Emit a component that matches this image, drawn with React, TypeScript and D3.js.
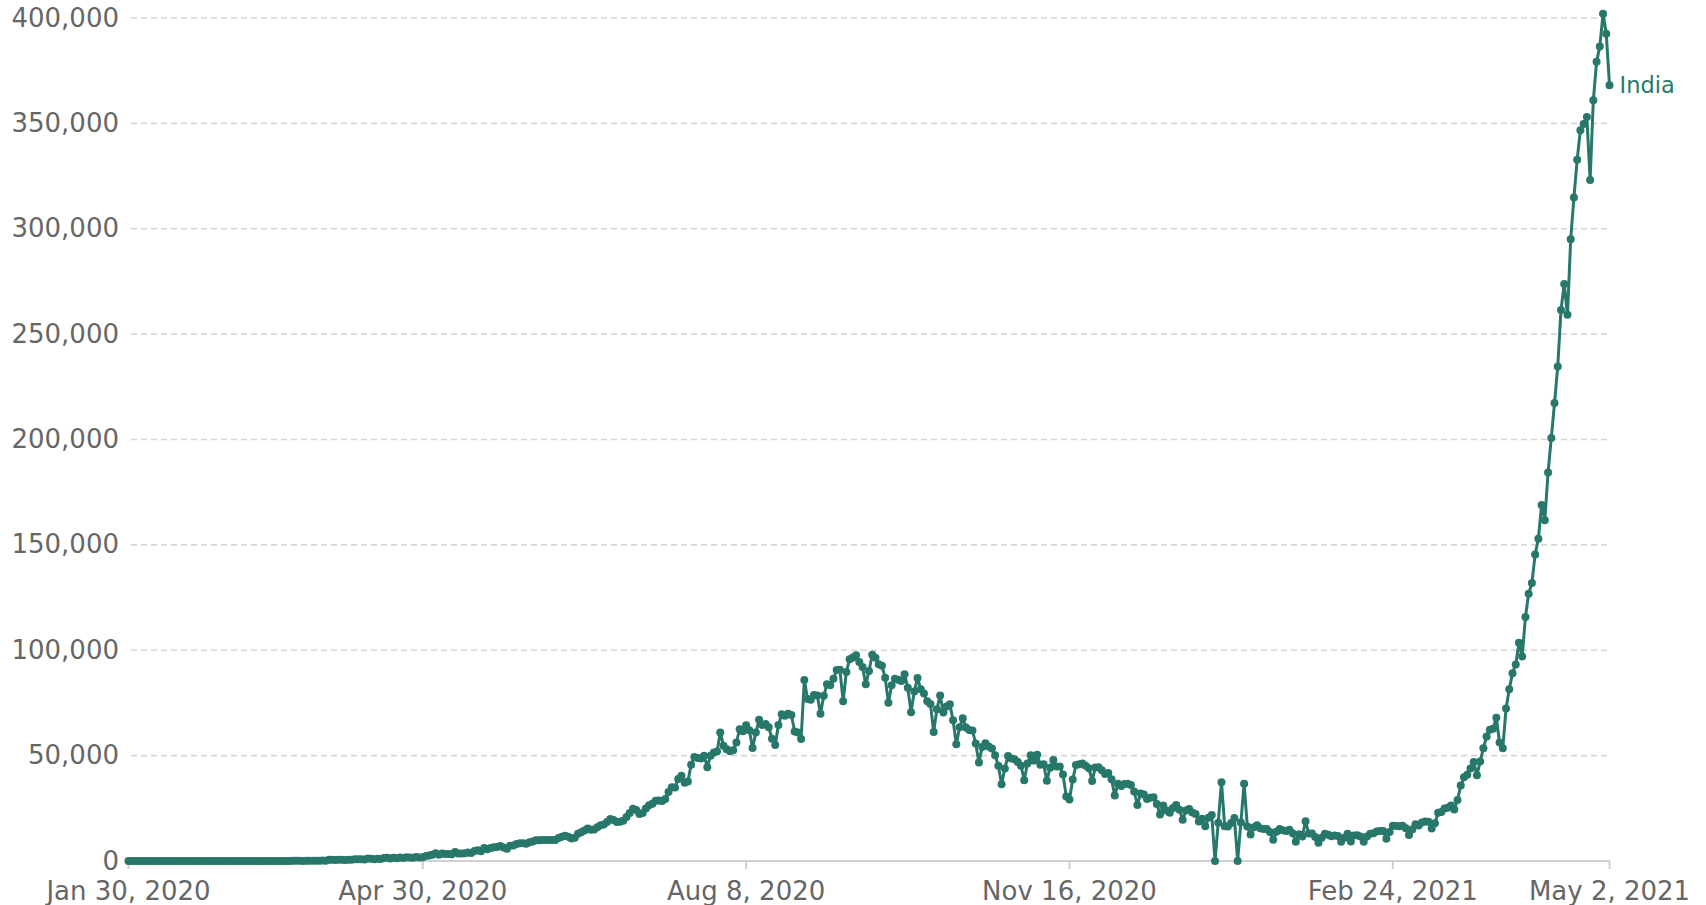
import React from "react";
import * as d3 from "d3";

// daily new confirmed cases, India, one value per day starting Jan 30, 2020
const jan2020 = [1, 0];
const feb2020 = [0, 1, 1, 0, 0, 0, 0, 0, 0, 0, 0, 0, 0, 0, 0, 0, 0, 0, 0, 0, 0, 0, 0, 0, 0, 0, 0, 0, 0];
const mar2020 = [0, 2, 1, 22, 2, 1, 3, 5, 4, 6, 6, 11, 9, 20, 11, 6, 23, 14, 38, 50, 86, 66, 103, 37, 121, 70, 160, 100, 112, 227, 146];
const apr2020 = [601, 545, 478, 579, 609, 484, 573, 565, 813, 871, 854, 758, 1243, 1031, 886, 1061, 922, 1371, 1580, 1239, 1537, 1292, 1667, 1408, 1835, 1607, 1568, 1902, 1705, 1801];
const may2020 = [2396, 2564, 2952, 3656, 2971, 3602, 3344, 3339, 3175, 4311, 3592, 3562, 3726, 3991, 3808, 4794, 5050, 4628, 6147, 5553, 6198, 6568, 6629, 7111, 6414, 5843, 7293, 7300, 8105, 8380, 8392];
const jun2020 = [8171, 8909, 9304, 9851, 9887, 9971, 9983, 9987, 9985, 9996, 10956, 11458, 11929, 11502, 10667, 10974, 12881, 13586, 14516, 15413, 14821, 14933, 15968, 16922, 17296, 18552, 19906, 19459, 18522, 18653];
const jul2020 = [19148, 20903, 22771, 24850, 24248, 22252, 22752, 24879, 26506, 27114, 28637, 28701, 28498, 29429, 32695, 34956, 34884, 38902, 40425, 37148, 37724, 45720, 49310, 48916, 48661, 49931, 44500, 50000, 51500, 52000, 61000];
const aug2020 = [54735, 52972, 52050, 52509, 56282, 62538, 61537, 64399, 62064, 53601, 60963, 66999, 64553, 65002, 63490, 57981, 55079, 64531, 69652, 68898, 69878, 69239, 61408, 60975, 57900, 85900, 76900, 76472, 78761, 78512, 69921];
const sep2020 = [78357, 83883, 83341, 86432, 90632, 90802, 75809, 89706, 95735, 96551, 97570, 94372, 92071, 83809, 90123, 97894, 96424, 93337, 92605, 86961, 75083, 83347, 86508, 86052, 85362, 88600, 82170, 70589, 80472, 86821];
const oct2020 = [81484, 79476, 75829, 74442, 61267, 72049, 78524, 70496, 73272, 74383, 66732, 55342, 63509, 67708, 63371, 62212, 61871, 55722, 46790, 54044, 55839, 54366, 53370, 50129, 45148, 36470, 43893, 49881, 48648, 48268, 46963];
const nov2020 = [45231, 38310, 46253, 50209, 47638, 50356, 45674, 45903, 38073, 44281, 47905, 44879, 44878, 41100, 30548, 29163, 38617, 45576, 45882, 46232, 45209, 44059, 37975, 44376, 44489, 43082, 41322, 41810, 38772, 31118];
const dec2020 = [36604, 35551, 36595, 36652, 36011, 32981, 26567, 32080, 31521, 29398, 30006, 30254, 27071, 22065, 26382, 24010, 22890, 25152, 26624, 24337, 19556, 23950, 24712, 23068, 22273, 18732, 20021, 16432, 20550, 21822, 0];
const jan2021 = [18200, 37400, 16504, 16375, 18088, 20346, 0, 18222, 36600, 16311, 12584, 15968, 16946, 15590, 15158, 15144, 13788, 10064, 13823, 15223, 14545, 14256, 14849, 13203, 9102, 12689, 11666, 18855, 13083, 13052, 11427];
const feb2021 = [8635, 11039, 12899, 12408, 11713, 12059, 11831, 9110, 11067, 12923, 9309, 12143, 12194, 11649, 9121, 11610, 12881, 13193, 13993, 14264, 14199, 10584, 13742, 16738, 16577, 16488, 16752, 15510];
const mar2021 = [12286, 14989, 17407, 16838, 18327, 18711, 18599, 15388, 17921, 22854, 23285, 24882, 25320, 26291, 24492, 28903, 35871, 39726, 40953, 43846, 46951, 40715, 47262, 53476, 59118, 62258, 62714, 68020, 56211, 53480, 72330];
const apr2021 = [81466, 89129, 93249, 103558, 96982, 115736, 126789, 131968, 145384, 152879, 168912, 161736, 184372, 200739, 217353, 234692, 261500, 273810, 259170, 295041, 314835, 332730, 346786, 349691, 352991, 323144, 360960, 379257, 386452, 401993];
const may2021 = [392488, 368147];

const seriesName = "India";
const xTickDates = ["2020-01-30", "2020-04-30", "2020-08-08", "2020-11-16", "2021-02-24", "2021-05-02"];
const yTicks = [0, 50000, 100000, 150000, 200000, 250000, 300000, 350000, 400000];

const startDate = new Date(Date.UTC(2020, 0, 30));
const dailyCases = [
  ...jan2020, ...feb2020, ...mar2020, ...apr2020, ...may2020, ...jun2020,
  ...jul2020, ...aug2020, ...sep2020, ...oct2020, ...nov2020, ...dec2020,
  ...jan2021, ...feb2021, ...mar2021, ...apr2021, ...may2021,
];

const width = 1706;
const height = 905;
const color = "#27786a";
const textColor = "#666";
const font = "'DejaVu Sans', sans-serif";

export default function App() {
  const data = dailyCases.map((value, i) => ({
    date: d3.utcDay.offset(startDate, i),
    value,
  }));

  const x = d3
    .scaleUtc()
    .domain([startDate, data[data.length - 1].date])
    .range([128.5, 1609.5]);

  const y = d3.scaleLinear().domain([0, 400000]).range([861, 18]);

  const line = d3
    .line<{ date: Date; value: number }>()
    .x((d) => x(d.date))
    .y((d) => y(d.value));

  const fmt = d3.format(",");
  const dateFmt = d3.utcFormat("%b %-d, %Y");
  const last = data[data.length - 1];

  return (
    <svg
      width={width}
      height={height}
      style={{ position: "absolute", left: 0, top: 0, background: "#fff" }}
      fontFamily={font}
    >
      {/* grid + y labels */}
      {yTicks.map((t) => (
        <g key={t}>
          {t > 0 && (
            <line
              x1={131}
              x2={1610}
              y1={y(t)}
              y2={y(t)}
              stroke="#d6d6d6"
              strokeWidth={1.6}
              strokeDasharray="6,4"
            />
          )}
          <text
            x={119}
            y={y(t)}
            dy="0.33em"
            textAnchor="end"
            fontSize={26}
            fill={textColor}
          >
            {fmt(t)}
          </text>
        </g>
      ))}

      {/* x axis */}
      <line x1={128.5} x2={1610} y1={y(0)} y2={y(0)} stroke="#d0d0d0" strokeWidth={2} />
      {xTickDates.map((s) => {
        const d = new Date(s + "T00:00:00Z");
        return (
          <g key={s} transform={`translate(${x(d)},0)`}>
            <line y1={y(0)} y2={y(0) + 8} stroke="#d0d0d0" strokeWidth={2} />
            <text y={900} textAnchor="middle" fontSize={26} fill={textColor}>
              {dateFmt(d)}
            </text>
          </g>
        );
      })}

      {/* series */}
      <path d={line(data) || ""} fill="none" stroke={color} strokeWidth={3} strokeLinejoin="round" />
      {data.map((d, i) => (
        <circle key={i} cx={x(d.date)} cy={y(d.value)} r={4} fill={color} />
      ))}
      <text
        x={x(last.date) + 10}
        y={y(last.value)}
        dy="0.36em"
        fontSize={22.5}
        fill={color}
      >
        {seriesName}
      </text>
    </svg>
  );
}
